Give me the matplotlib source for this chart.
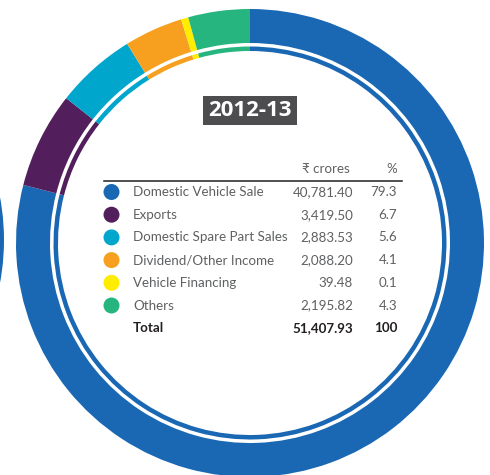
import matplotlib.pyplot as plt
from matplotlib.patches import Wedge, Circle, FancyBboxPatch

# Revenue breakup 2012-13
categories = ["Domestic Vehicle Sale", "Exports", "Domestic Spare Part Sales",
              "Dividend/Other Income", "Vehicle Financing", "Others"]
crores = [40781.40, 3419.50, 2883.53, 2088.20, 39.48, 2195.82]
percent = ["79.3", "6.7", "5.6", "4.1", "0.1", "4.3"]
crores_labels = ["40,781.40", "3,419.50", "2,883.53", "2,088.20", "39.48", "2,195.82"]
total_label = "51,407.93"
total_pct = "100"
year = "2012-13"
colors = ["#1A68B3", "#521E5C", "#00A6CB", "#F7A01F", "#FFED00", "#27B57F"]

# tiny slices are widened a little so they stay visible on the ring
total = sum(crores)
shown = [max(v, 0.005 * total) for v in crores]

W, H = 490, 475
fig = plt.figure(figsize=(W / 100, H / 100), dpi=100)
ax = fig.add_axes([0, 0, 1, 1])

def Y(py):
    # pixel row -> data y
    return H - py

cx, cy = 250, Y(243)
R = 234

# outer thick ring
ax.pie(shown, colors=colors, center=(cx, cy), radius=R, startangle=90,
       counterclock=False, wedgeprops=dict(width=34, linewidth=0))
# thin inner ring
ax.pie(shown, colors=colors, center=(cx, cy), radius=R - 37.5, startangle=90,
       counterclock=False, wedgeprops=dict(width=4.5, linewidth=0))

# edge of the neighbouring chart on the left
ax.add_patch(Wedge((4 - R, cy + 3), R, -30, 30, width=34, color=colors[0], lw=0))

ax.set_xlim(0, W)
ax.set_ylim(0, H)
ax.set_aspect("equal")
ax.axis("off")

# year badge
ax.add_patch(FancyBboxPatch((203, Y(125)), 94, 29, boxstyle="square,pad=0",
                            color="#4D4D4F", lw=0))
ax.text(250, Y(110.5), year, ha="center", va="center", color="white",
        fontsize=16, fontweight="bold", family=["Open Sans", "DejaVu Sans"])

fam = ["Lato", "Noto Sans", "DejaVu Sans"]
txt = "#5F6062"
fs = 9.6

# header
ax.text(350, Y(169), "\u20b9 crores", ha="right", va="center", color=txt,
        fontsize=fs, family=fam)
ax.text(397, Y(169), "%", ha="right", va="center", color=txt, fontsize=fs, family=fam)
ax.plot([104, 402], [Y(181), Y(181)], color="#231F20", lw=1.1)

row0, step = 192, 22.7
for i, name in enumerate(categories):
    y = Y(row0 + i * step)
    ax.add_patch(Circle((111.5, y), 8, color=colors[i], lw=0))
    ax.text(133, y, name, ha="left", va="center", color=txt, fontsize=fs, family=fam)
    ax.text(353, y, crores_labels[i], ha="right", va="center", color=txt,
            fontsize=fs, family=fam)
    ax.text(397, y, percent[i], ha="right", va="center", color=txt,
            fontsize=fs, family=fam)

y = Y(row0 + len(categories) * step)
ax.text(133, y, "Total", ha="left", va="center", color="#231F20", fontsize=fs,
        fontweight="bold", family=fam)
ax.text(353, y, total_label, ha="right", va="center", color="#231F20", fontsize=fs,
        fontweight="bold", family=fam)
ax.text(397, y, total_pct, ha="right", va="center", color="#231F20", fontsize=fs,
        fontweight="bold", family=fam)

fig.savefig("out.png", dpi=100)
